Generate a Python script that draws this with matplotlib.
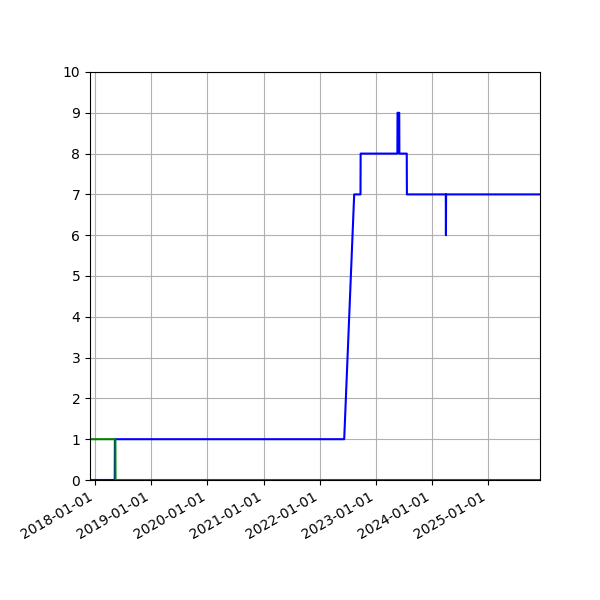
import matplotlib
matplotlib.use("Agg")
import matplotlib.pyplot as plt
import matplotlib.dates as mdates
import pandas as pd

blue_dates = ["2017-11-28", "2018-05-08", "2018-05-09", "2022-06-09", "2022-08-13",
              "2022-09-23", "2022-09-24", "2023-05-21", "2023-05-22", "2023-06-02",
              "2023-06-03", "2023-07-21", "2023-07-22", "2024-03-31", "2024-04-01",
              "2024-04-02", "2025-12-04"]
blue_values = [0, 0, 1, 1, 7, 7, 8, 8, 9, 9, 8, 8, 7, 7, 6, 7, 7]

green_dates = ["2017-11-28", "2018-05-12", "2018-05-13", "2025-12-04"]
green_values = [1, 1, 0, 0]

fig = plt.figure(figsize=(6, 6), dpi=100)
ax = fig.add_axes([0.15, 0.2, 0.75, 0.68])
bd = pd.to_datetime(blue_dates)
gd = pd.to_datetime(green_dates)
ax.plot(bd, blue_values, color="blue")
ax.plot(gd, green_values, color="green")
ax.set_xlim(bd.min(), bd.max())
ax.set_ylim(0, 10)
ax.set_yticks(range(0, 11))
ax.xaxis.set_major_locator(mdates.YearLocator())
ax.xaxis.set_major_formatter(mdates.DateFormatter("%Y-%m-%d"))
ax.grid(True)
for lbl in ax.get_xticklabels():
    lbl.set_rotation(30)
    lbl.set_ha("right")
fig.savefig("out.png", dpi=100)
